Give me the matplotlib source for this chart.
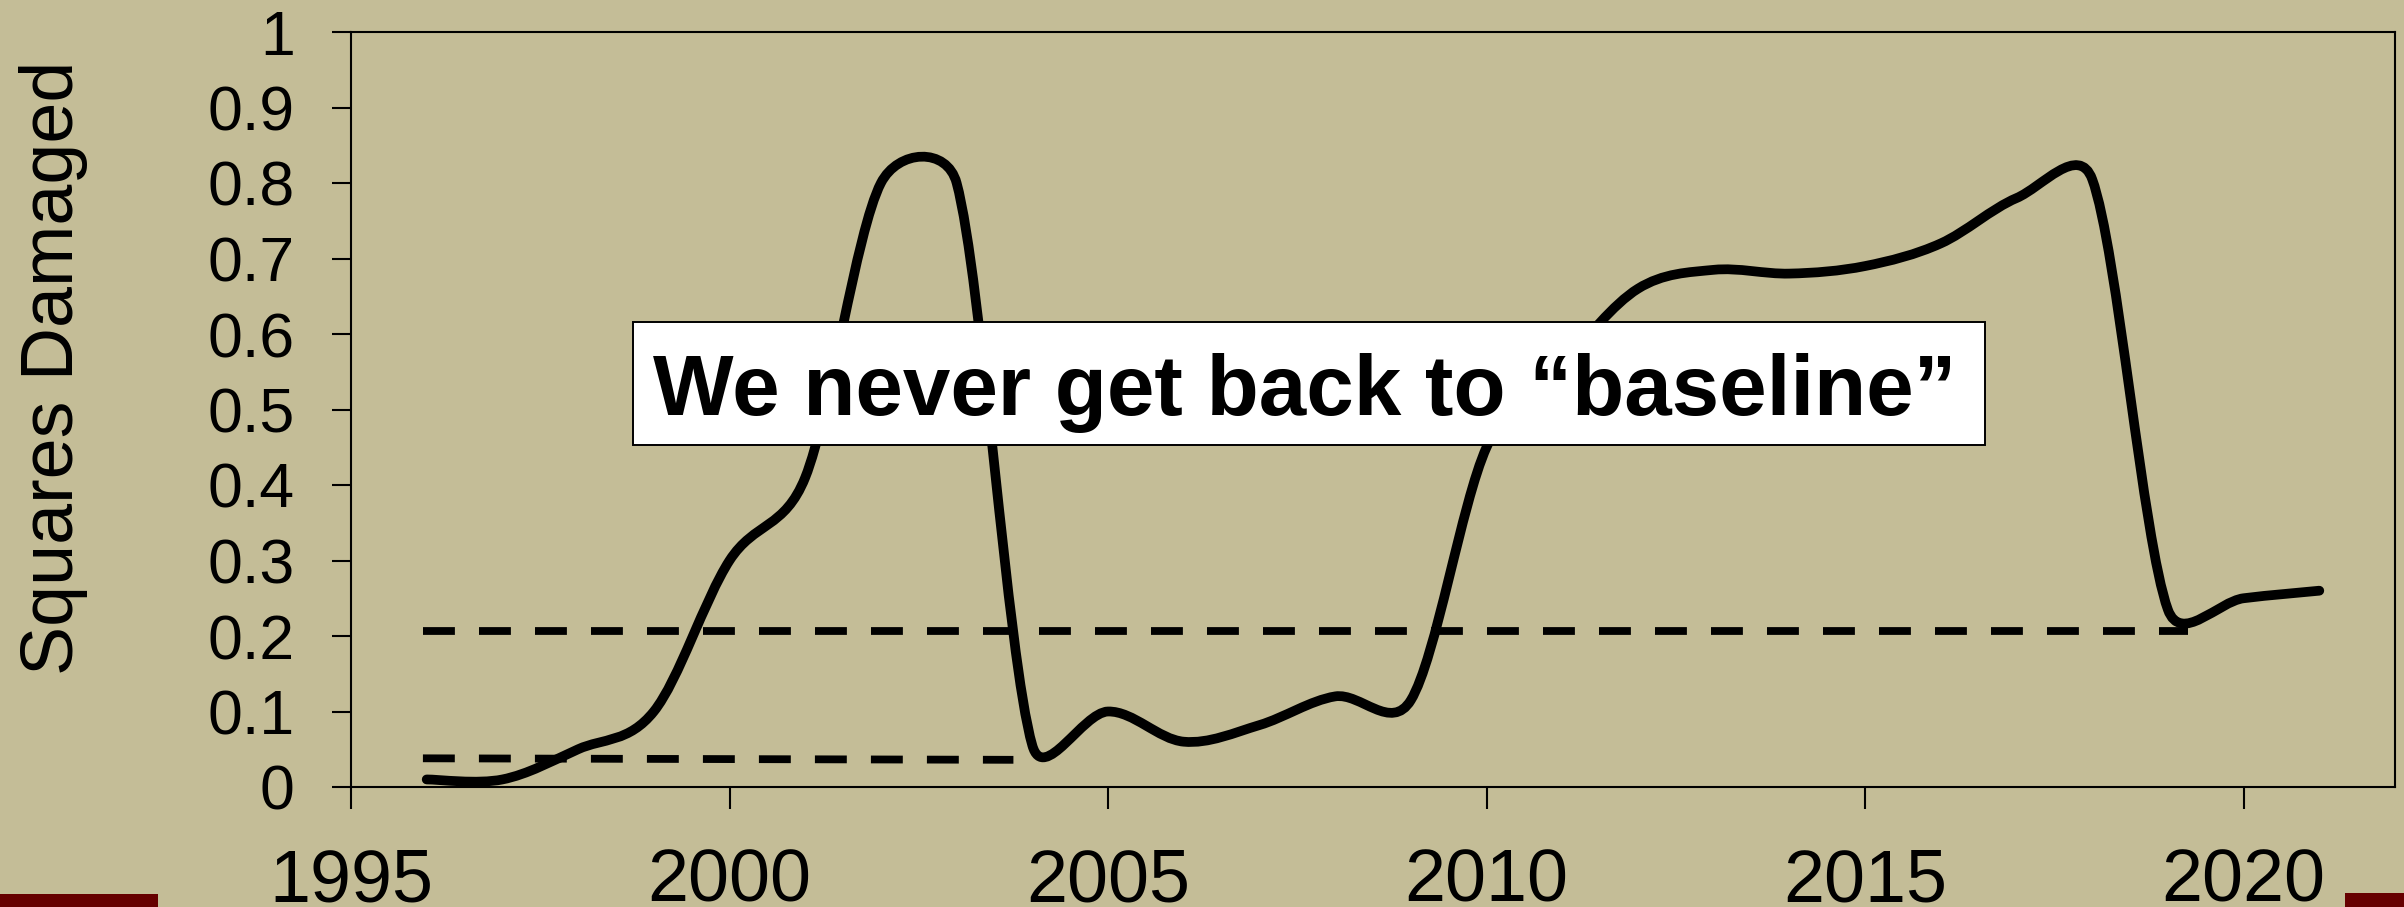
import numpy as np
import matplotlib
matplotlib.use("Agg")
import matplotlib.pyplot as plt
from matplotlib.path import Path
from matplotlib.patches import PathPatch, Rectangle
from matplotlib.ticker import FuncFormatter

plt.rcParams['font.family'] = ['Liberation Sans', 'DejaVu Sans']

# yearly fraction of squares damaged
years = [1996, 1997, 1998, 1999, 2000, 2001, 2002, 2003, 2004, 2005, 2006,
         2007, 2008, 2009, 2010, 2011, 2012, 2013, 2014, 2015, 2016, 2017,
         2018, 2019, 2020, 2021]
damaged = [0.01, 0.01, 0.05, 0.10, 0.30, 0.41, 0.80, 0.80, 0.055, 0.10, 0.06,
           0.082, 0.12, 0.115, 0.45, 0.56, 0.66, 0.685, 0.68, 0.69, 0.72, 0.78,
           0.805, 0.235, 0.25, 0.26]

# dashed reference levels: (level at start, level at end, start year, end year)
baseline_high = (0.206, 0.206, 1995.95, 2019.27)
baseline_low = (0.038, 0.036, 1995.95, 2003.75)

x_ticks = [1995, 2000, 2005, 2010, 2015, 2020]
y_ticks = [0, 0.1, 0.2, 0.3, 0.4, 0.5, 0.6, 0.7, 0.8, 0.9, 1]

note = "We never get back to \u201cbaseline\u201d"

bg = '#C4BD97'
W, H = 2404, 907


def smooth_path(ax, x, y):
    """Bezier through the points, spreadsheet-style (tension 1/6, arms capped
    at half the segment length), worked out in display space."""
    pts = ax.transData.transform(np.column_stack([x, y]))
    n = len(pts)
    verts = [pts[0]]
    codes = [Path.MOVETO]
    for i in range(n - 1):
        p0 = pts[max(i - 1, 0)]
        p1 = pts[i]
        p2 = pts[i + 1]
        p3 = pts[min(i + 2, n - 1)]
        d12 = np.hypot(*(p2 - p1))
        d02 = np.hypot(*(p2 - p0))
        d13 = np.hypot(*(p3 - p1))
        f1 = 1 / 6 if d02 / 6 <= d12 / 2 else d12 / (2 * d02)
        f2 = 1 / 6 if d13 / 6 <= d12 / 2 else d12 / (2 * d13)
        verts += [p1 + f1 * (p2 - p0), p2 - f2 * (p3 - p1), p2]
        codes += [Path.CURVE4] * 3
    verts = ax.transData.inverted().transform(np.array(verts))
    return Path(verts, codes)


fig = plt.figure(figsize=(W / 100, H / 100), dpi=100, facecolor=bg)
ax = fig.add_axes([351 / W, 1 - 787 / H, (2395 - 351) / W, (787 - 32) / H])
ax.set_facecolor(bg)
ax.set_xlim(1995, 2022)
ax.set_ylim(0, 1)

for s in ax.spines.values():
    s.set_linewidth(1.5)
    s.set_color('black')

ax.set_xticks(x_ticks)
ax.set_yticks(y_ticks)
ax.yaxis.set_major_formatter(FuncFormatter(lambda v, _: f"{v:g}"))
ax.tick_params(axis='x', direction='out', length=16, width=1.5, pad=27.5,
               labelsize=53)
ax.tick_params(axis='y', direction='out', length=13.5, width=1.5, pad=27,
               labelsize=45)

fig.text(53.5 / W, 1 - 368 / H, "Squares Damaged", rotation=90,
         ha='center', va='center', fontsize=53)

# baseline levels
for y0, y1, xa, xb in (baseline_high, baseline_low):
    ax.plot([xa, xb], [y0, y1], color='black', lw=5.6,
            linestyle=(0, (4.1, 3.1)), dash_capstyle='butt', zorder=2)

# smoothed damage curve
ax.add_patch(PathPatch(smooth_path(ax, years, damaged), fill=False,
                       edgecolor='black', lw=7.0, capstyle='round',
                       joinstyle='round', zorder=3))

# callout box
ax.add_patch(Rectangle((1998.73, 0.453), 2016.58 - 1998.73, 0.616 - 0.453,
                       facecolor='white', edgecolor='black', lw=1.4,
                       zorder=5))
ax.text(2007.6, 0.493, note, ha='center', va='baseline', fontsize=61.5,
        fontweight='bold', zorder=6)

# footer accents
fig.add_artist(Rectangle((0, 0), 158 / W, 13 / H, transform=fig.transFigure,
                         facecolor='#660000', edgecolor='none'))
fig.add_artist(Rectangle((2345 / W, 0), 59 / W, 14 / H,
                         transform=fig.transFigure,
                         facecolor='#660000', edgecolor='none'))

fig.savefig('out.png', dpi=100, facecolor=bg)
